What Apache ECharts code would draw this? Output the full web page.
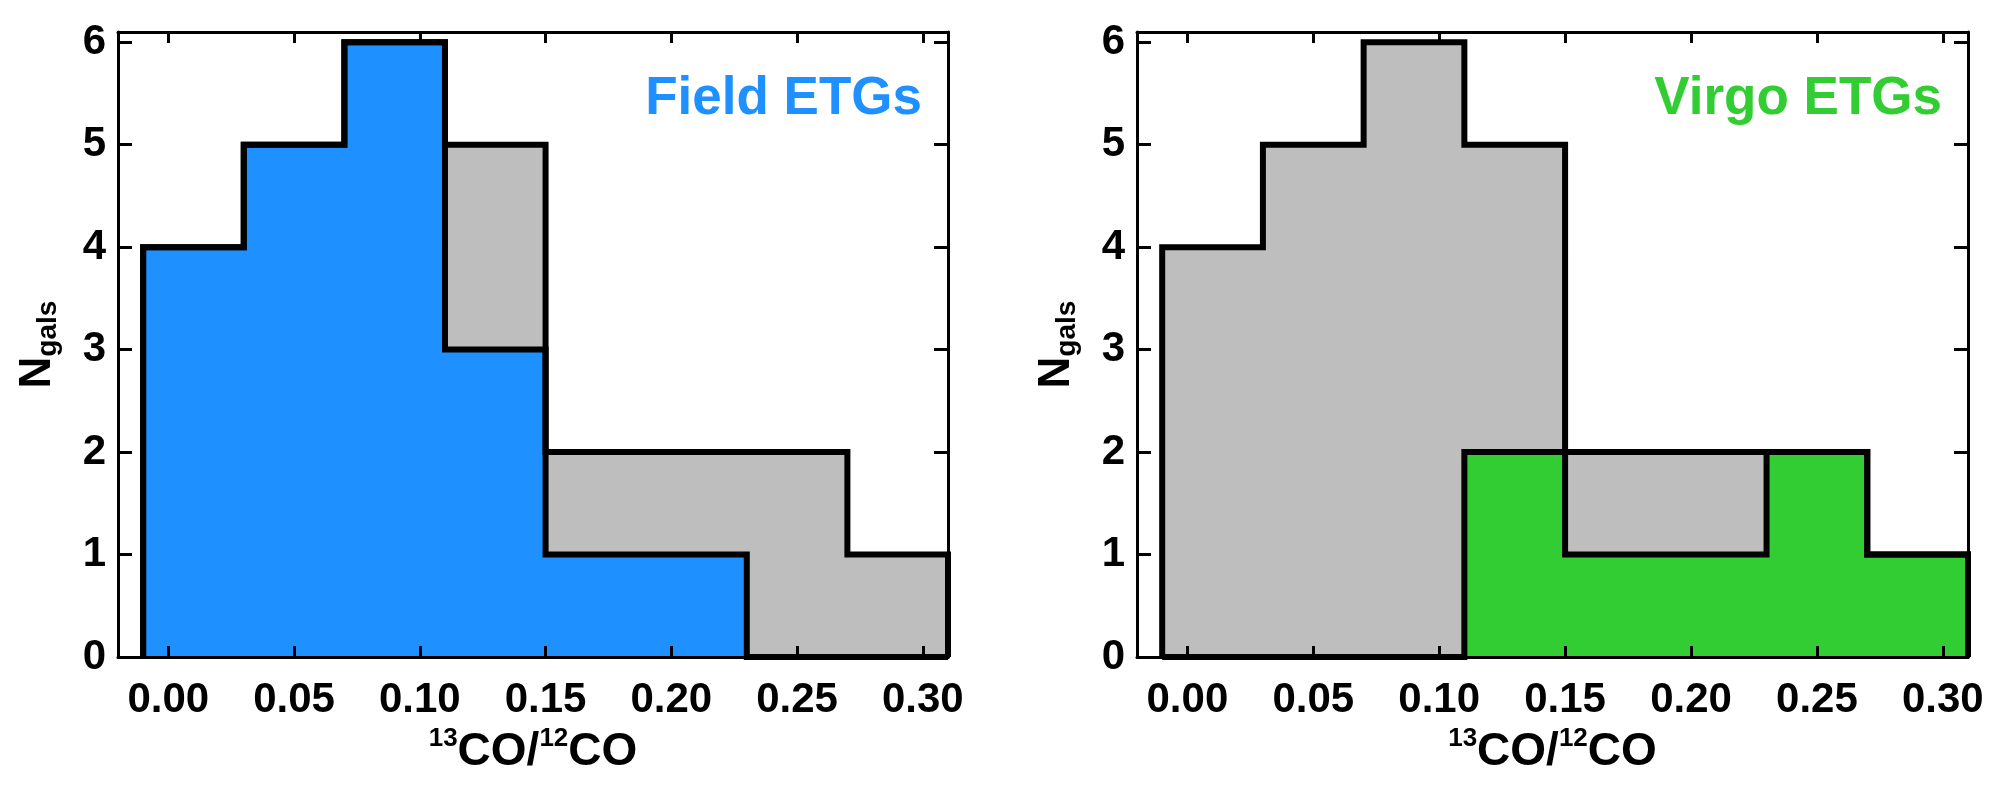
<!DOCTYPE html>
<html>
<head>
<meta charset="utf-8">
<script src="https://cdn.jsdelivr.net/npm/echarts@6/dist/echarts.min.js"></script>
<style>
html,body{margin:0;padding:0;background:#fff;}
#main{width:2000px;height:787px;}
</style>
</head>
<body>
<div id="main"></div>
<script>
// bin edges of the 13CO/12CO histograms and the counts per bin
var binEdges = [-0.01, 0.03, 0.07, 0.11, 0.15, 0.19, 0.23, 0.27, 0.31];
var allCounts = [4, 5, 6, 5, 2, 2, 2, 1];
var fieldCounts = [4, 5, 6, 3, 1, 1, 0, 0];
var virgoCounts = [0, 0, 0, 2, 1, 1, 2, 1];
var xTicks = [0.00, 0.05, 0.10, 0.15, 0.20, 0.25, 0.30];
var yTicks = [0, 1, 2, 3, 4, 5, 6];
var panelTexts = ['Field ETGs', 'Virgo ETGs'];

var FONT = '"Liberation Sans", Arial, Helvetica, sans-serif';

// outline of a histogram as a list of corner points
function histPoints(edges, counts) {
    var pts = [[edges[0], 0]];
    for (var i = 0; i < counts.length; i++) {
        pts.push([edges[i], counts[i]]);
        pts.push([edges[i + 1], counts[i]]);
    }
    pts.push([edges[edges.length - 1], 0]);
    return pts;
}

function xAx(grid, pos) {
    var bottom = pos == 'bottom';
    return {
        type: 'value', gridIndex: grid, position: pos,
        min: -0.02, max: 0.31, z: 5,
        splitLine: {show: false},
        axisLine: {show: true, onZero: false, lineStyle: {color: '#000', width: 3}},
        axisTick: {show: true, inside: true, length: 11, customValues: xTicks,
            lineStyle: {color: '#000', width: 3}},
        axisLabel: {show: bottom, customValues: xTicks, margin: 22,
            formatter: function (v) { return v.toFixed(2); },
            color: '#000', fontSize: 42, fontWeight: 'bold', fontFamily: FONT},
        name: bottom ? '{s|13}{m|CO/}{s|12}{m|CO}' : '',
        nameLocation: 'middle', nameGap: 64,
        nameTextStyle: {
            rich: {
                m: {fontSize: 46, fontWeight: 'bold', fontFamily: FONT, color: '#000', lineHeight: 52},
                s: {fontSize: 26, fontWeight: 'bold', fontFamily: FONT, color: '#000', lineHeight: 26, verticalAlign: 'top'}
            }
        }
    };
}

function yAx(grid, pos) {
    var left = pos == 'left';
    return {
        type: 'value', gridIndex: grid, position: pos,
        min: 0, max: 6.1, z: 5,
        splitLine: {show: false},
        axisLine: {show: true, onZero: false, lineStyle: {color: '#000', width: 3}},
        axisTick: {show: true, inside: true, length: 14, customValues: yTicks,
            lineStyle: {color: '#000', width: 3}},
        axisLabel: {show: left, customValues: yTicks, margin: 12,
            color: '#000', fontSize: 42, fontWeight: 'bold', fontFamily: FONT},
        name: left ? '{n|N}{s|gals}' : '',
        nameLocation: 'middle', nameRotate: 90, nameGap: 56,
        nameTextStyle: {
            rich: {
                n: {fontSize: 44, fontWeight: 'bold', fontFamily: FONT, color: '#000', lineHeight: 46, verticalAlign: 'top'},
                s: {fontSize: 28, fontWeight: 'bold', fontFamily: FONT, color: '#000', lineHeight: 28,
                    padding: [32, 0, 0, 0], verticalAlign: 'bottom'}
            }
        }
    };
}

function histSeries(counts, color, axis) {
    return {
        type: 'line', xAxisIndex: axis, yAxisIndex: axis,
        data: histPoints(binEdges, counts),
        symbol: 'none', showSymbol: false, clip: false, silent: true,
        lineStyle: {color: '#000', width: 6, join: 'miter'},
        areaStyle: {color: color, opacity: 1}
    };
}

var myChart = echarts.init(document.getElementById('main'));

var option = {
    animation: false,
    backgroundColor: '#fff',
    title: [{
        text: panelTexts[0], right: 1078, top: 73, padding: 0,
        textStyle: {color: '#1E90FF', fontSize: 53, fontWeight: 'bold', fontFamily: FONT}
    }, {
        text: panelTexts[1], right: 58, top: 73, padding: 0,
        textStyle: {color: '#32CD32', fontSize: 53, fontWeight: 'bold', fontFamily: FONT}
    }],
    grid: [
        {left: 118, top: 32, width: 830, height: 625},
        {left: 1137, top: 32, width: 831, height: 625}
    ],
    xAxis: [xAx(0, 'bottom'), xAx(0, 'top'), xAx(1, 'bottom'), xAx(1, 'top')],
    yAxis: [yAx(0, 'left'), yAx(0, 'right'), yAx(1, 'left'), yAx(1, 'right')],
    series: [
        histSeries(allCounts, '#BEBEBE', 0),
        histSeries(fieldCounts, '#1E90FF', 0),
        histSeries(allCounts, '#BEBEBE', 2),
        histSeries(virgoCounts, '#32CD32', 2)
    ]
};

myChart.setOption(option);
</script>
</body>
</html>
